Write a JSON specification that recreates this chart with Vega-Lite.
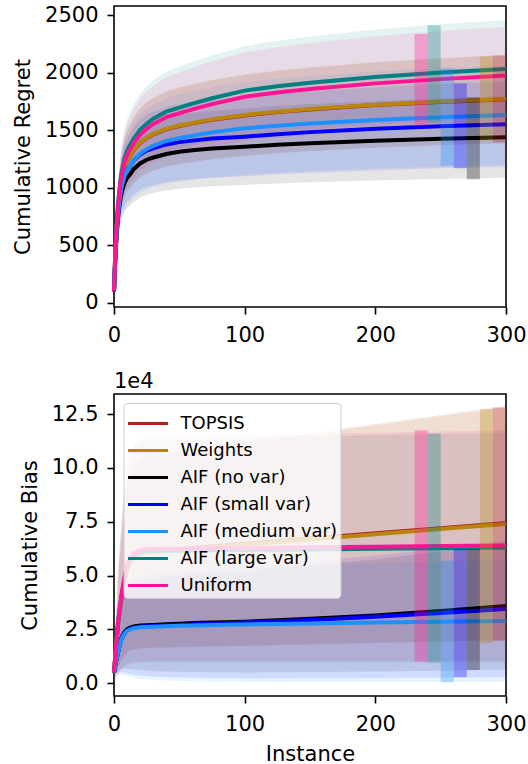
{
"$schema": "https://vega.github.io/schema/vega-lite/v6.json",
"padding": {"left": 11, "top": 3, "right": 0, "bottom": 0},
"background": "white",
"config": {
  "font": "DejaVu Sans",
  "view": {"stroke": "black", "strokeWidth": 1.6},
  "axis": {"grid": false, "domain": false, "tickColor": "black", "tickSize": 7, "tickWidth": 1.6, "labelFontSize": 21, "labelColor": "black", "labelFont": "DejaVu Sans", "titleFontSize": 21, "titleFontWeight": "normal", "titleColor": "black", "titleFont": "DejaVu Sans"},
  "axisX": {"labelPadding": 10, "titlePadding": 9, "labelFlush": false},
  "axisY": {"labelPadding": 9, "titlePadding": 11},
  "concat": {"spacing": 24}
},
"resolve": {"scale": {"color": "independent"}, "legend": {"color": "independent"}},
"datasets": {
"regret": [
{"s":"TOPSIS","x":0,"m":98,"lo":77,"hi":119},
{"s":"TOPSIS","x":1,"m":419,"lo":328,"hi":510},
{"s":"TOPSIS","x":2,"m":640,"lo":502,"hi":778},
{"s":"TOPSIS","x":3,"m":809,"lo":634,"hi":984},
{"s":"TOPSIS","x":4,"m":924,"lo":724,"hi":1124},
{"s":"TOPSIS","x":5,"m":1016,"lo":797,"hi":1235},
{"s":"TOPSIS","x":6,"m":1085,"lo":851,"hi":1319},
{"s":"TOPSIS","x":8,"m":1177,"lo":923,"hi":1431},
{"s":"TOPSIS","x":10,"m":1234,"lo":967,"hi":1501},
{"s":"TOPSIS","x":12,"m":1269,"lo":995,"hi":1543},
{"s":"TOPSIS","x":15,"m":1326,"lo":1040,"hi":1612},
{"s":"TOPSIS","x":20,"m":1391,"lo":1091,"hi":1691},
{"s":"TOPSIS","x":25,"m":1434,"lo":1124,"hi":1744},
{"s":"TOPSIS","x":30,"m":1464,"lo":1148,"hi":1780},
{"s":"TOPSIS","x":40,"m":1510,"lo":1184,"hi":1836},
{"s":"TOPSIS","x":50,"m":1537,"lo":1205,"hi":1869},
{"s":"TOPSIS","x":60,"m":1560,"lo":1223,"hi":1897},
{"s":"TOPSIS","x":75,"m":1591,"lo":1247,"hi":1935},
{"s":"TOPSIS","x":100,"m":1629,"lo":1277,"hi":1981},
{"s":"TOPSIS","x":125,"m":1658,"lo":1300,"hi":2016},
{"s":"TOPSIS","x":150,"m":1681,"lo":1318,"hi":2044},
{"s":"TOPSIS","x":200,"m":1719,"lo":1348,"hi":2090},
{"s":"TOPSIS","x":250,"m":1747,"lo":1370,"hi":2124},
{"s":"TOPSIS","x":300,"m":1771,"lo":1388,"hi":2154},
{"s":"Weights","x":0,"m":100,"lo":78,"hi":122},
{"s":"Weights","x":1,"m":422,"lo":331,"hi":513},
{"s":"Weights","x":2,"m":644,"lo":505,"hi":783},
{"s":"Weights","x":3,"m":813,"lo":637,"hi":989},
{"s":"Weights","x":4,"m":928,"lo":728,"hi":1128},
{"s":"Weights","x":5,"m":1020,"lo":800,"hi":1240},
{"s":"Weights","x":6,"m":1089,"lo":854,"hi":1324},
{"s":"Weights","x":8,"m":1181,"lo":926,"hi":1436},
{"s":"Weights","x":10,"m":1238,"lo":971,"hi":1505},
{"s":"Weights","x":12,"m":1273,"lo":998,"hi":1548},
{"s":"Weights","x":15,"m":1330,"lo":1043,"hi":1617},
{"s":"Weights","x":20,"m":1395,"lo":1094,"hi":1696},
{"s":"Weights","x":25,"m":1438,"lo":1127,"hi":1749},
{"s":"Weights","x":30,"m":1468,"lo":1151,"hi":1785},
{"s":"Weights","x":40,"m":1514,"lo":1187,"hi":1841},
{"s":"Weights","x":50,"m":1541,"lo":1208,"hi":1874},
{"s":"Weights","x":60,"m":1564,"lo":1226,"hi":1902},
{"s":"Weights","x":75,"m":1595,"lo":1250,"hi":1940},
{"s":"Weights","x":100,"m":1633,"lo":1280,"hi":1986},
{"s":"Weights","x":125,"m":1662,"lo":1303,"hi":2021},
{"s":"Weights","x":150,"m":1685,"lo":1321,"hi":2049},
{"s":"Weights","x":200,"m":1723,"lo":1351,"hi":2095},
{"s":"Weights","x":250,"m":1751,"lo":1373,"hi":2129},
{"s":"Weights","x":300,"m":1775,"lo":1392,"hi":2158},
{"s":"AIF (no var)","x":0,"m":100,"lo":76,"hi":125},
{"s":"AIF (no var)","x":1,"m":377,"lo":285,"hi":469},
{"s":"AIF (no var)","x":2,"m":578,"lo":436,"hi":720},
{"s":"AIF (no var)","x":3,"m":729,"lo":550,"hi":908},
{"s":"AIF (no var)","x":4,"m":829,"lo":626,"hi":1032},
{"s":"AIF (no var)","x":5,"m":905,"lo":683,"hi":1127},
{"s":"AIF (no var)","x":6,"m":967,"lo":730,"hi":1204},
{"s":"AIF (no var)","x":8,"m":1043,"lo":787,"hi":1299},
{"s":"AIF (no var)","x":10,"m":1087,"lo":821,"hi":1353},
{"s":"AIF (no var)","x":12,"m":1112,"lo":840,"hi":1384},
{"s":"AIF (no var)","x":15,"m":1162,"lo":877,"hi":1447},
{"s":"AIF (no var)","x":20,"m":1212,"lo":915,"hi":1509},
{"s":"AIF (no var)","x":25,"m":1244,"lo":939,"hi":1549},
{"s":"AIF (no var)","x":30,"m":1263,"lo":954,"hi":1572},
{"s":"AIF (no var)","x":40,"m":1294,"lo":977,"hi":1611},
{"s":"AIF (no var)","x":50,"m":1313,"lo":991,"hi":1635},
{"s":"AIF (no var)","x":60,"m":1326,"lo":1001,"hi":1651},
{"s":"AIF (no var)","x":75,"m":1342,"lo":1013,"hi":1671},
{"s":"AIF (no var)","x":100,"m":1357,"lo":1025,"hi":1689},
{"s":"AIF (no var)","x":125,"m":1374,"lo":1037,"hi":1711},
{"s":"AIF (no var)","x":150,"m":1388,"lo":1048,"hi":1728},
{"s":"AIF (no var)","x":200,"m":1409,"lo":1064,"hi":1754},
{"s":"AIF (no var)","x":250,"m":1426,"lo":1077,"hi":1775},
{"s":"AIF (no var)","x":300,"m":1440,"lo":1087,"hi":1793},
{"s":"AIF (small var)","x":0,"m":100,"lo":76,"hi":124},
{"s":"AIF (small var)","x":1,"m":396,"lo":302,"hi":490},
{"s":"AIF (small var)","x":2,"m":611,"lo":466,"hi":756},
{"s":"AIF (small var)","x":3,"m":772,"lo":588,"hi":956},
{"s":"AIF (small var)","x":4,"m":880,"lo":671,"hi":1089},
{"s":"AIF (small var)","x":5,"m":960,"lo":732,"hi":1188},
{"s":"AIF (small var)","x":6,"m":1027,"lo":783,"hi":1271},
{"s":"AIF (small var)","x":8,"m":1108,"lo":844,"hi":1372},
{"s":"AIF (small var)","x":10,"m":1155,"lo":880,"hi":1430},
{"s":"AIF (small var)","x":12,"m":1182,"lo":901,"hi":1463},
{"s":"AIF (small var)","x":15,"m":1236,"lo":942,"hi":1530},
{"s":"AIF (small var)","x":20,"m":1289,"lo":982,"hi":1596},
{"s":"AIF (small var)","x":25,"m":1323,"lo":1008,"hi":1638},
{"s":"AIF (small var)","x":30,"m":1343,"lo":1023,"hi":1663},
{"s":"AIF (small var)","x":40,"m":1377,"lo":1049,"hi":1705},
{"s":"AIF (small var)","x":50,"m":1397,"lo":1065,"hi":1729},
{"s":"AIF (small var)","x":60,"m":1410,"lo":1074,"hi":1746},
{"s":"AIF (small var)","x":75,"m":1428,"lo":1088,"hi":1768},
{"s":"AIF (small var)","x":100,"m":1444,"lo":1100,"hi":1788},
{"s":"AIF (small var)","x":125,"m":1466,"lo":1117,"hi":1815},
{"s":"AIF (small var)","x":150,"m":1484,"lo":1131,"hi":1837},
{"s":"AIF (small var)","x":200,"m":1513,"lo":1153,"hi":1873},
{"s":"AIF (small var)","x":250,"m":1535,"lo":1170,"hi":1900},
{"s":"AIF (small var)","x":300,"m":1553,"lo":1183,"hi":1923},
{"s":"AIF (medium var)","x":0,"m":100,"lo":74,"hi":127},
{"s":"AIF (medium var)","x":1,"m":398,"lo":293,"hi":503},
{"s":"AIF (medium var)","x":2,"m":603,"lo":443,"hi":763},
{"s":"AIF (medium var)","x":3,"m":759,"lo":558,"hi":960},
{"s":"AIF (medium var)","x":4,"m":865,"lo":636,"hi":1094},
{"s":"AIF (medium var)","x":5,"m":950,"lo":698,"hi":1202},
{"s":"AIF (medium var)","x":6,"m":1014,"lo":745,"hi":1283},
{"s":"AIF (medium var)","x":8,"m":1099,"lo":808,"hi":1390},
{"s":"AIF (medium var)","x":10,"m":1152,"lo":847,"hi":1457},
{"s":"AIF (medium var)","x":12,"m":1184,"lo":870,"hi":1498},
{"s":"AIF (medium var)","x":15,"m":1237,"lo":909,"hi":1565},
{"s":"AIF (medium var)","x":20,"m":1297,"lo":953,"hi":1641},
{"s":"AIF (medium var)","x":25,"m":1336,"lo":982,"hi":1690},
{"s":"AIF (medium var)","x":30,"m":1365,"lo":1003,"hi":1727},
{"s":"AIF (medium var)","x":40,"m":1407,"lo":1034,"hi":1780},
{"s":"AIF (medium var)","x":50,"m":1432,"lo":1053,"hi":1811},
{"s":"AIF (medium var)","x":60,"m":1453,"lo":1068,"hi":1838},
{"s":"AIF (medium var)","x":75,"m":1482,"lo":1089,"hi":1875},
{"s":"AIF (medium var)","x":100,"m":1517,"lo":1115,"hi":1919},
{"s":"AIF (medium var)","x":125,"m":1540,"lo":1132,"hi":1948},
{"s":"AIF (medium var)","x":150,"m":1559,"lo":1146,"hi":1972},
{"s":"AIF (medium var)","x":200,"m":1590,"lo":1169,"hi":2011},
{"s":"AIF (medium var)","x":250,"m":1613,"lo":1186,"hi":2040},
{"s":"AIF (medium var)","x":300,"m":1632,"lo":1200,"hi":2064},
{"s":"AIF (large var)","x":0,"m":100,"lo":79,"hi":121},
{"s":"AIF (large var)","x":1,"m":449,"lo":355,"hi":543},
{"s":"AIF (large var)","x":2,"m":676,"lo":534,"hi":818},
{"s":"AIF (large var)","x":3,"m":850,"lo":672,"hi":1029},
{"s":"AIF (large var)","x":4,"m":973,"lo":769,"hi":1177},
{"s":"AIF (large var)","x":5,"m":1077,"lo":851,"hi":1303},
{"s":"AIF (large var)","x":6,"m":1147,"lo":906,"hi":1388},
{"s":"AIF (large var)","x":8,"m":1252,"lo":989,"hi":1515},
{"s":"AIF (large var)","x":10,"m":1322,"lo":1044,"hi":1600},
{"s":"AIF (large var)","x":12,"m":1365,"lo":1078,"hi":1652},
{"s":"AIF (large var)","x":15,"m":1426,"lo":1127,"hi":1725},
{"s":"AIF (large var)","x":20,"m":1505,"lo":1189,"hi":1821},
{"s":"AIF (large var)","x":25,"m":1557,"lo":1230,"hi":1884},
{"s":"AIF (large var)","x":30,"m":1601,"lo":1265,"hi":1937},
{"s":"AIF (large var)","x":40,"m":1662,"lo":1313,"hi":2011},
{"s":"AIF (large var)","x":50,"m":1697,"lo":1341,"hi":2053},
{"s":"AIF (large var)","x":60,"m":1732,"lo":1368,"hi":2096},
{"s":"AIF (large var)","x":75,"m":1779,"lo":1405,"hi":2153},
{"s":"AIF (large var)","x":100,"m":1845,"lo":1458,"hi":2232},
{"s":"AIF (large var)","x":125,"m":1883,"lo":1488,"hi":2278},
{"s":"AIF (large var)","x":150,"m":1914,"lo":1512,"hi":2316},
{"s":"AIF (large var)","x":200,"m":1964,"lo":1552,"hi":2376},
{"s":"AIF (large var)","x":250,"m":2002,"lo":1582,"hi":2422},
{"s":"AIF (large var)","x":300,"m":2033,"lo":1606,"hi":2460},
{"s":"Uniform","x":0,"m":100,"lo":79,"hi":122},
{"s":"Uniform","x":1,"m":438,"lo":344,"hi":532},
{"s":"Uniform","x":2,"m":658,"lo":517,"hi":799},
{"s":"Uniform","x":3,"m":828,"lo":650,"hi":1006},
{"s":"Uniform","x":4,"m":946,"lo":743,"hi":1149},
{"s":"Uniform","x":5,"m":1048,"lo":823,"hi":1273},
{"s":"Uniform","x":6,"m":1115,"lo":875,"hi":1355},
{"s":"Uniform","x":8,"m":1217,"lo":955,"hi":1479},
{"s":"Uniform","x":10,"m":1284,"lo":1008,"hi":1560},
{"s":"Uniform","x":12,"m":1327,"lo":1042,"hi":1612},
{"s":"Uniform","x":15,"m":1386,"lo":1088,"hi":1684},
{"s":"Uniform","x":20,"m":1462,"lo":1148,"hi":1776},
{"s":"Uniform","x":25,"m":1513,"lo":1188,"hi":1838},
{"s":"Uniform","x":30,"m":1555,"lo":1221,"hi":1889},
{"s":"Uniform","x":40,"m":1614,"lo":1267,"hi":1961},
{"s":"Uniform","x":50,"m":1648,"lo":1294,"hi":2002},
{"s":"Uniform","x":60,"m":1682,"lo":1320,"hi":2044},
{"s":"Uniform","x":75,"m":1728,"lo":1356,"hi":2100},
{"s":"Uniform","x":100,"m":1792,"lo":1407,"hi":2177},
{"s":"Uniform","x":125,"m":1829,"lo":1436,"hi":2222},
{"s":"Uniform","x":150,"m":1860,"lo":1460,"hi":2260},
{"s":"Uniform","x":200,"m":1908,"lo":1498,"hi":2318},
{"s":"Uniform","x":250,"m":1945,"lo":1527,"hi":2363},
{"s":"Uniform","x":300,"m":1976,"lo":1551,"hi":2401}
],
"bias": [
{"s":"TOPSIS","x":0,"m":5000,"lo":1350,"hi":8650},
{"s":"TOPSIS","x":1,"m":12693,"lo":3427,"hi":21959},
{"s":"TOPSIS","x":2,"m":19849,"lo":5359,"hi":34339},
{"s":"TOPSIS","x":3,"m":27018,"lo":7295,"hi":46741},
{"s":"TOPSIS","x":4,"m":31996,"lo":8639,"hi":55353},
{"s":"TOPSIS","x":5,"m":36431,"lo":9836,"hi":63026},
{"s":"TOPSIS","x":6,"m":40874,"lo":11036,"hi":70712},
{"s":"TOPSIS","x":8,"m":47572,"lo":12844,"hi":82300},
{"s":"TOPSIS","x":10,"m":53185,"lo":14360,"hi":92010},
{"s":"TOPSIS","x":12,"m":56043,"lo":15132,"hi":96954},
{"s":"TOPSIS","x":15,"m":58681,"lo":15844,"hi":101518},
{"s":"TOPSIS","x":20,"m":60311,"lo":16284,"hi":104338},
{"s":"TOPSIS","x":25,"m":61113,"lo":16501,"hi":105725},
{"s":"TOPSIS","x":30,"m":61355,"lo":16566,"hi":106144},
{"s":"TOPSIS","x":40,"m":61840,"lo":16697,"hi":106983},
{"s":"TOPSIS","x":50,"m":62325,"lo":16828,"hi":107822},
{"s":"TOPSIS","x":60,"m":62810,"lo":16959,"hi":108661},
{"s":"TOPSIS","x":75,"m":63538,"lo":17155,"hi":109921},
{"s":"TOPSIS","x":100,"m":64750,"lo":17483,"hi":112018},
{"s":"TOPSIS","x":125,"m":65963,"lo":17810,"hi":114116},
{"s":"TOPSIS","x":150,"m":67175,"lo":18137,"hi":116213},
{"s":"TOPSIS","x":200,"m":69600,"lo":18792,"hi":120408},
{"s":"TOPSIS","x":250,"m":72025,"lo":19447,"hi":124603},
{"s":"TOPSIS","x":300,"m":74450,"lo":20102,"hi":128799},
{"s":"Weights","x":0,"m":5000,"lo":1350,"hi":8650},
{"s":"Weights","x":1,"m":12651,"lo":3416,"hi":21886},
{"s":"Weights","x":2,"m":19768,"lo":5337,"hi":34199},
{"s":"Weights","x":3,"m":26898,"lo":7262,"hi":46534},
{"s":"Weights","x":4,"m":31848,"lo":8599,"hi":55097},
{"s":"Weights","x":5,"m":36259,"lo":9790,"hi":62728},
{"s":"Weights","x":6,"m":40677,"lo":10983,"hi":70371},
{"s":"Weights","x":8,"m":47338,"lo":12781,"hi":81895},
{"s":"Weights","x":10,"m":52920,"lo":14288,"hi":91552},
{"s":"Weights","x":12,"m":55762,"lo":15056,"hi":96468},
{"s":"Weights","x":15,"m":58384,"lo":15764,"hi":101004},
{"s":"Weights","x":20,"m":60004,"lo":16201,"hi":103807},
{"s":"Weights","x":25,"m":60800,"lo":16416,"hi":105184},
{"s":"Weights","x":30,"m":61040,"lo":16481,"hi":105599},
{"s":"Weights","x":40,"m":61520,"lo":16610,"hi":106430},
{"s":"Weights","x":50,"m":62000,"lo":16740,"hi":107260},
{"s":"Weights","x":60,"m":62480,"lo":16870,"hi":108090},
{"s":"Weights","x":75,"m":63200,"lo":17064,"hi":109336},
{"s":"Weights","x":100,"m":64400,"lo":17388,"hi":111412},
{"s":"Weights","x":125,"m":65600,"lo":17712,"hi":113488},
{"s":"Weights","x":150,"m":66800,"lo":18036,"hi":115564},
{"s":"Weights","x":200,"m":69200,"lo":18684,"hi":119716},
{"s":"Weights","x":250,"m":71600,"lo":19332,"hi":123868},
{"s":"Weights","x":300,"m":74000,"lo":19980,"hi":128020},
{"s":"AIF (no var)","x":0,"m":5000,"lo":4588,"hi":5413},
{"s":"AIF (no var)","x":1,"m":8488,"lo":4987,"hi":11989},
{"s":"AIF (no var)","x":2,"m":11540,"lo":5355,"hi":17725},
{"s":"AIF (no var)","x":3,"m":14156,"lo":5747,"hi":22565},
{"s":"AIF (no var)","x":4,"m":16990,"lo":6337,"hi":27643},
{"s":"AIF (no var)","x":5,"m":19606,"lo":6666,"hi":32546},
{"s":"AIF (no var)","x":6,"m":21568,"lo":6977,"hi":36159},
{"s":"AIF (no var)","x":8,"m":23748,"lo":6899,"hi":40597},
{"s":"AIF (no var)","x":10,"m":25056,"lo":6865,"hi":43247},
{"s":"AIF (no var)","x":12,"m":25710,"lo":6620,"hi":44800},
{"s":"AIF (no var)","x":15,"m":26364,"lo":6354,"hi":46374},
{"s":"AIF (no var)","x":20,"m":26800,"lo":6017,"hi":47583},
{"s":"AIF (no var)","x":25,"m":26950,"lo":5821,"hi":48079},
{"s":"AIF (no var)","x":30,"m":27100,"lo":5637,"hi":48563},
{"s":"AIF (no var)","x":40,"m":27400,"lo":5480,"hi":49320},
{"s":"AIF (no var)","x":50,"m":27700,"lo":5305,"hi":50095},
{"s":"AIF (no var)","x":60,"m":27950,"lo":5238,"hi":50662},
{"s":"AIF (no var)","x":75,"m":28200,"lo":5166,"hi":51234},
{"s":"AIF (no var)","x":100,"m":28600,"lo":5005,"hi":52195},
{"s":"AIF (no var)","x":125,"m":29300,"lo":5128,"hi":53473},
{"s":"AIF (no var)","x":150,"m":30000,"lo":5250,"hi":54750},
{"s":"AIF (no var)","x":200,"m":31500,"lo":5513,"hi":57488},
{"s":"AIF (no var)","x":250,"m":33600,"lo":5880,"hi":61320},
{"s":"AIF (no var)","x":300,"m":35900,"lo":6283,"hi":65518},
{"s":"AIF (small var)","x":0,"m":5000,"lo":4540,"hi":5460},
{"s":"AIF (small var)","x":1,"m":8408,"lo":4540,"hi":12276},
{"s":"AIF (small var)","x":2,"m":11390,"lo":4579,"hi":18201},
{"s":"AIF (small var)","x":3,"m":13946,"lo":4708,"hi":23184},
{"s":"AIF (small var)","x":4,"m":16715,"lo":5028,"hi":28402},
{"s":"AIF (small var)","x":5,"m":19271,"lo":5087,"hi":33455},
{"s":"AIF (small var)","x":6,"m":21188,"lo":5204,"hi":37172},
{"s":"AIF (small var)","x":8,"m":23318,"lo":4869,"hi":41767},
{"s":"AIF (small var)","x":10,"m":24596,"lo":4683,"hi":44509},
{"s":"AIF (small var)","x":12,"m":25235,"lo":4340,"hi":46130},
{"s":"AIF (small var)","x":15,"m":25874,"lo":3974,"hi":47774},
{"s":"AIF (small var)","x":20,"m":26300,"lo":3556,"hi":49044},
{"s":"AIF (small var)","x":25,"m":26450,"lo":3333,"hi":49567},
{"s":"AIF (small var)","x":30,"m":26600,"lo":3107,"hi":50093},
{"s":"AIF (small var)","x":40,"m":26850,"lo":2889,"hi":50811},
{"s":"AIF (small var)","x":50,"m":27100,"lo":2667,"hi":51533},
{"s":"AIF (small var)","x":60,"m":27300,"lo":2561,"hi":52039},
{"s":"AIF (small var)","x":75,"m":27600,"lo":2462,"hi":52738},
{"s":"AIF (small var)","x":100,"m":28200,"lo":2256,"hi":54144},
{"s":"AIF (small var)","x":125,"m":28800,"lo":2304,"hi":55296},
{"s":"AIF (small var)","x":150,"m":29400,"lo":2352,"hi":56448},
{"s":"AIF (small var)","x":200,"m":30900,"lo":2472,"hi":59328},
{"s":"AIF (small var)","x":250,"m":32600,"lo":2608,"hi":62592},
{"s":"AIF (small var)","x":300,"m":34500,"lo":2760,"hi":66240},
{"s":"AIF (medium var)","x":0,"m":5000,"lo":4510,"hi":5490},
{"s":"AIF (medium var)","x":1,"m":8360,"lo":4264,"hi":12456},
{"s":"AIF (medium var)","x":2,"m":11300,"lo":4102,"hi":18498},
{"s":"AIF (medium var)","x":3,"m":13820,"lo":4069,"hi":23571},
{"s":"AIF (medium var)","x":4,"m":16550,"lo":4224,"hi":28876},
{"s":"AIF (medium var)","x":5,"m":19070,"lo":4119,"hi":34021},
{"s":"AIF (medium var)","x":6,"m":20960,"lo":4117,"hi":37803},
{"s":"AIF (medium var)","x":8,"m":23060,"lo":3625,"hi":42495},
{"s":"AIF (medium var)","x":10,"m":24320,"lo":3346,"hi":45294},
{"s":"AIF (medium var)","x":12,"m":24950,"lo":2944,"hi":46956},
{"s":"AIF (medium var)","x":15,"m":25580,"lo":2517,"hi":48643},
{"s":"AIF (medium var)","x":20,"m":26000,"lo":2049,"hi":49951},
{"s":"AIF (medium var)","x":25,"m":26150,"lo":1804,"hi":50496},
{"s":"AIF (medium var)","x":30,"m":26300,"lo":1557,"hi":51043},
{"s":"AIF (medium var)","x":40,"m":26500,"lo":1309,"hi":51691},
{"s":"AIF (medium var)","x":50,"m":26700,"lo":1057,"hi":52343},
{"s":"AIF (medium var)","x":60,"m":26850,"lo":932,"hi":52768},
{"s":"AIF (medium var)","x":75,"m":27050,"lo":806,"hi":53294},
{"s":"AIF (medium var)","x":100,"m":27300,"lo":546,"hi":54054},
{"s":"AIF (medium var)","x":125,"m":27550,"lo":551,"hi":54549},
{"s":"AIF (medium var)","x":150,"m":27750,"lo":555,"hi":54945},
{"s":"AIF (medium var)","x":200,"m":28200,"lo":564,"hi":55836},
{"s":"AIF (medium var)","x":250,"m":28550,"lo":571,"hi":56529},
{"s":"AIF (medium var)","x":300,"m":28900,"lo":578,"hi":57222},
{"s":"AIF (large var)","x":0,"m":5000,"lo":775,"hi":9225},
{"s":"AIF (large var)","x":1,"m":12883,"lo":1997,"hi":23769},
{"s":"AIF (large var)","x":2,"m":20204,"lo":3132,"hi":37276},
{"s":"AIF (large var)","x":3,"m":27527,"lo":4267,"hi":50787},
{"s":"AIF (large var)","x":4,"m":32598,"lo":5053,"hi":60143},
{"s":"AIF (large var)","x":5,"m":37108,"lo":5752,"hi":68464},
{"s":"AIF (large var)","x":6,"m":41617,"lo":6451,"hi":76783},
{"s":"AIF (large var)","x":8,"m":48386,"lo":7500,"hi":89272},
{"s":"AIF (large var)","x":10,"m":54031,"lo":8375,"hi":99687},
{"s":"AIF (large var)","x":12,"m":56859,"lo":8813,"hi":104905},
{"s":"AIF (large var)","x":15,"m":59412,"lo":9209,"hi":109615},
{"s":"AIF (large var)","x":20,"m":60850,"lo":9432,"hi":112268},
{"s":"AIF (large var)","x":25,"m":61443,"lo":9524,"hi":113362},
{"s":"AIF (large var)","x":30,"m":61471,"lo":9528,"hi":113414},
{"s":"AIF (large var)","x":40,"m":61528,"lo":9537,"hi":113519},
{"s":"AIF (large var)","x":50,"m":61585,"lo":9546,"hi":113624},
{"s":"AIF (large var)","x":60,"m":61642,"lo":9555,"hi":113729},
{"s":"AIF (large var)","x":75,"m":61728,"lo":9568,"hi":113888},
{"s":"AIF (large var)","x":100,"m":61870,"lo":9590,"hi":114150},
{"s":"AIF (large var)","x":125,"m":62013,"lo":9612,"hi":114414},
{"s":"AIF (large var)","x":150,"m":62155,"lo":9634,"hi":114676},
{"s":"AIF (large var)","x":200,"m":62440,"lo":9678,"hi":115202},
{"s":"AIF (large var)","x":250,"m":62725,"lo":9722,"hi":115728},
{"s":"AIF (large var)","x":300,"m":63010,"lo":9767,"hi":116253},
{"s":"Uniform","x":0,"m":5000,"lo":825,"hi":9175},
{"s":"Uniform","x":1,"m":13009,"lo":2146,"hi":23872},
{"s":"Uniform","x":2,"m":20447,"lo":3374,"hi":37520},
{"s":"Uniform","x":3,"m":27887,"lo":4601,"hi":51173},
{"s":"Uniform","x":4,"m":33040,"lo":5452,"hi":60628},
{"s":"Uniform","x":5,"m":37621,"lo":6207,"hi":69035},
{"s":"Uniform","x":6,"m":42203,"lo":6963,"hi":77443},
{"s":"Uniform","x":8,"m":49081,"lo":8098,"hi":90064},
{"s":"Uniform","x":10,"m":54816,"lo":9045,"hi":100587},
{"s":"Uniform","x":12,"m":57690,"lo":9519,"hi":105861},
{"s":"Uniform","x":15,"m":60285,"lo":9947,"hi":110623},
{"s":"Uniform","x":20,"m":61747,"lo":10188,"hi":113306},
{"s":"Uniform","x":25,"m":62350,"lo":10288,"hi":114412},
{"s":"Uniform","x":30,"m":62380,"lo":10293,"hi":114467},
{"s":"Uniform","x":40,"m":62440,"lo":10303,"hi":114577},
{"s":"Uniform","x":50,"m":62500,"lo":10313,"hi":114688},
{"s":"Uniform","x":60,"m":62560,"lo":10322,"hi":114798},
{"s":"Uniform","x":75,"m":62650,"lo":10337,"hi":114963},
{"s":"Uniform","x":100,"m":62800,"lo":10362,"hi":115238},
{"s":"Uniform","x":125,"m":62950,"lo":10387,"hi":115513},
{"s":"Uniform","x":150,"m":63100,"lo":10412,"hi":115789},
{"s":"Uniform","x":200,"m":63400,"lo":10461,"hi":116339},
{"s":"Uniform","x":250,"m":63700,"lo":10511,"hi":116890},
{"s":"Uniform","x":300,"m":64000,"lo":10560,"hi":117440}
],
"regretBars": [
{"s":"Uniform","x1":230,"x2":240,"lo":1538,"hi":2338},
{"s":"AIF (large var)","x1":240,"x2":250,"lo":1561,"hi":2414},
{"s":"AIF (medium var)","x1":250,"x2":260,"lo":1190,"hi":2040},
{"s":"AIF (small var)","x1":260,"x2":270,"lo":1169,"hi":1909},
{"s":"AIF (no var)","x1":270,"x2":280,"lo":1074,"hi":1787},
{"s":"Weights","x1":280,"x2":290,"lo":1410,"hi":2141},
{"s":"TOPSIS","x1":290,"x2":300,"lo":1393,"hi":2150}
],
"biasBars": [
{"s":"Uniform","x1":230,"x2":240,"lo":10000,"hi":117500},
{"s":"AIF (large var)","x1":240,"x2":250,"lo":9700,"hi":116000},
{"s":"AIF (medium var)","x1":250,"x2":260,"lo":500,"hi":56900},
{"s":"AIF (small var)","x1":260,"x2":270,"lo":2800,"hi":62300},
{"s":"AIF (no var)","x1":270,"x2":280,"lo":6200,"hi":62300},
{"s":"Weights","x1":280,"x2":290,"lo":18600,"hi":127300},
{"s":"TOPSIS","x1":290,"x2":300,"lo":19800,"hi":128000}
]
},
"vconcat": [
{
  "width": 392, "height": 301,
  "layer": [
    {
      "data": {"name": "regret"},
      "mark": {"type": "area", "opacity": 0.1},
      "encoding": {
        "x": {"field": "x", "type": "quantitative", "scale": {"domain": [0, 300], "nice": false, "zero": false}, "axis": {"values": [0, 100, 200, 300], "title": null, "format": "d"}},
        "y": {"field": "lo", "type": "quantitative", "scale": {"domain": [-37, 2581], "nice": false, "zero": false}, "axis": {"values": [0, 500, 1000, 1500, 2000, 2500], "format": "d", "title": "Cumulative Regret"}},
        "y2": {"field": "hi"},
        "color": {"field": "s", "type": "nominal", "scale": {"domain": ["TOPSIS","Weights","AIF (no var)","AIF (small var)","AIF (medium var)","AIF (large var)","Uniform"], "range": ["#b22222","#b8860b","#000000","#0000ff","#1e90ff","#008080","#ff1493"]}, "legend": null}
      }
    },
    {
      "data": {"name": "regret"},
      "mark": {"type": "line", "strokeWidth": 4},
      "encoding": {
        "x": {"field": "x", "type": "quantitative"},
        "y": {"field": "m", "type": "quantitative"},
        "color": {"field": "s", "type": "nominal", "legend": null}
      }
    },
    {
      "data": {"name": "regretBars"},
      "mark": {"type": "rect", "opacity": 0.3},
      "encoding": {
        "x": {"field": "x1", "type": "quantitative"},
        "x2": {"field": "x2"},
        "y": {"field": "lo", "type": "quantitative"},
        "y2": {"field": "hi"},
        "color": {"field": "s", "type": "nominal", "legend": null}
      }
    }
  ]
},
{
  "width": 392, "height": 302,
  "title": {"text": "1e4", "anchor": "start", "frame": "group", "fontSize": 21, "fontWeight": "normal", "font": "DejaVu Sans", "color": "black", "offset": 2},
  "layer": [
    {
      "data": {"name": "bias"},
      "mark": {"type": "area", "opacity": 0.1},
      "encoding": {
        "x": {"field": "x", "type": "quantitative", "scale": {"domain": [0, 300], "nice": false, "zero": false}, "axis": {"values": [0, 100, 200, 300], "format": "d", "title": "Instance"}},
        "y": {"field": "lo", "type": "quantitative", "scale": {"domain": [-5900, 134300], "nice": false, "zero": false}, "axis": {"values": [0, 25000, 50000, 75000, 100000, 125000], "labelExpr": "format(datum.value/10000, '.1f')", "title": "Cumulative Bias"}},
        "y2": {"field": "hi"},
        "color": {"field": "s", "type": "nominal", "scale": {"domain": ["TOPSIS","Weights","AIF (no var)","AIF (small var)","AIF (medium var)","AIF (large var)","Uniform"], "range": ["#b22222","#b8860b","#000000","#0000ff","#1e90ff","#008080","#ff1493"]}, "legend": {"title": null, "orient": "none", "legendX": 9.5, "legendY": 9, "symbolType": "M-1,0H1.5", "symbolSize": 1024, "symbolStrokeWidth": 3, "symbolOpacity": 1, "labelFontSize": 18, "labelFont": "DejaVu Sans", "labelColor": "black", "labelOffset": 19, "padding": 3, "rowPadding": 0, "strokeColor": "#cccccc", "fillColor": "rgba(255,255,255,0.8)", "cornerRadius": 4, "labelLimit": 400, "encode": {"symbols": {"update": {"opacity": {"value": 1}, "strokeOpacity": {"value": 1}, "strokeWidth": {"value": 3}, "fillOpacity": {"value": 0}}}}}}
      }
    },
    {
      "data": {"name": "bias"},
      "mark": {"type": "line", "strokeWidth": 4},
      "encoding": {
        "x": {"field": "x", "type": "quantitative"},
        "y": {"field": "m", "type": "quantitative"},
        "color": {"field": "s", "type": "nominal"}
      }
    },
    {
      "data": {"name": "biasBars"},
      "mark": {"type": "rect", "opacity": 0.3},
      "encoding": {
        "x": {"field": "x1", "type": "quantitative"},
        "x2": {"field": "x2"},
        "y": {"field": "lo", "type": "quantitative"},
        "y2": {"field": "hi"},
        "color": {"field": "s", "type": "nominal"}
      }
    }
  ]
}
]
}
